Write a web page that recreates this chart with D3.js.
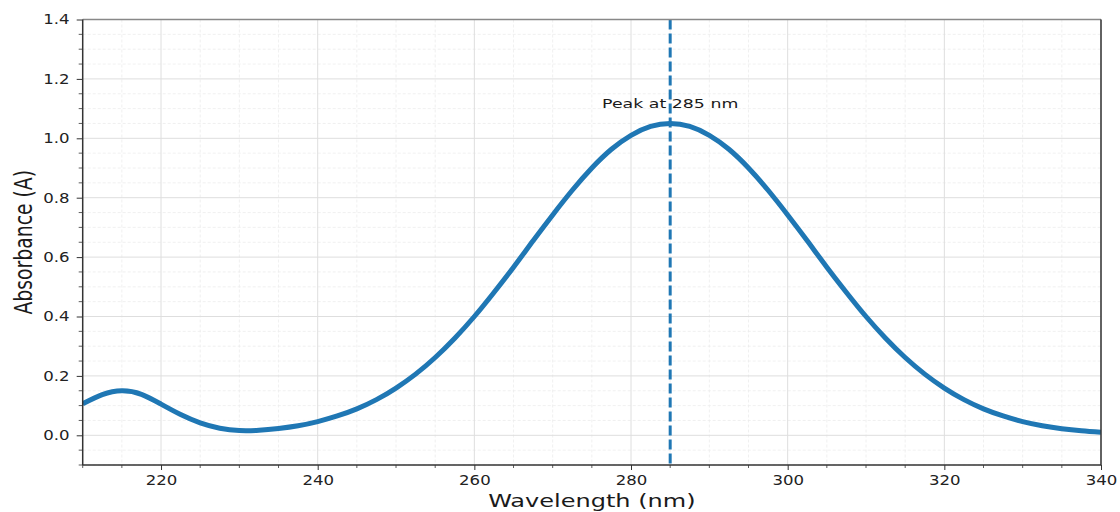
<!DOCTYPE html>
<html>
<head>
<meta charset="utf-8">
<script src="https://cdn.jsdelivr.net/npm/d3@7"></script>
<style>
    body { margin: 0; background: #fff; }
    svg { display: block; font-family: "DejaVu Sans", sans-serif; }
</style>
</head>
<body>
<div id="chart"></div>
<script>
// absorbance spectrum, every 2.5 nm
const wavelengths = [
    210, 212.5, 215, 217.5, 220, 222.5, 225, 227.5, 230, 232.5,
    235, 237.5, 240, 242.5, 245, 247.5, 250, 252.5, 255, 257.5,
    260, 262.5, 265, 267.5, 270, 272.5, 275, 277.5, 280, 282.5,
    285, 287.5, 290, 292.5, 295, 297.5, 300, 302.5, 305, 307.5,
    310, 312.5, 315, 317.5, 320, 322.5, 325, 327.5, 330, 332.5,
    335, 337.5, 340
];
const absorbance = [
    0.106, 0.137, 0.150, 0.138, 0.105, 0.070, 0.042, 0.024, 0.016, 0.017,
    0.023, 0.032, 0.046, 0.065, 0.089, 0.120, 0.159, 0.206, 0.262, 0.327,
    0.400, 0.481, 0.566, 0.655, 0.742, 0.825, 0.900, 0.963, 1.010, 1.040,
    1.050, 1.040, 1.010, 0.963, 0.900, 0.825, 0.742, 0.655, 0.566, 0.481,
    0.400, 0.327, 0.262, 0.206, 0.159, 0.120, 0.089, 0.065, 0.046, 0.032,
    0.022, 0.015, 0.010
];
const xTicks = [220, 240, 260, 280, 300, 320, 340];
const yTicks = [0.0, 0.2, 0.4, 0.6, 0.8, 1.0, 1.2, 1.4];
const xDomain = [210, 340];
const yDomain = [-0.1, 1.4];
const peakWavelength = 285;
const peakLabel = "Peak at 285 nm";
const peakLabelLevel = 1.10;
const xTitle = "Wavelength (nm)";
const yTitle = "Absorbance (A)";

const width = 1120, height = 512;
const m = { left: 82.7, right: 1101, top: 19.5, bottom: 465 };
const lineColor = "#1f77b4";

const svg = d3.select("#chart").append("svg")
    .attr("width", width).attr("height", height);

const x = d3.scaleLinear().domain(xDomain).range([m.left, m.right]);
const y = d3.scaleLinear().domain(yDomain).range([m.bottom, m.top]);

// minor ticks every 5 nm / 0.05
const xMinor = d3.range(210, 340.01, 5).filter(v => !xTicks.includes(v));
const yMinor = d3.range(-0.1, 1.401, 0.05).map(v => +v.toFixed(2))
    .filter(v => !yTicks.some(t => Math.abs(t - v) < 1e-6));

// grid
const grid = svg.append("g");
grid.selectAll(".gx-minor").data(xMinor).join("line")
    .attr("x1", d => x(d)).attr("x2", d => x(d)).attr("y1", m.top).attr("y2", m.bottom)
    .attr("stroke", "#ececec").attr("stroke-width", 0.8).attr("stroke-dasharray", "3,2");
grid.selectAll(".gy-minor").data(yMinor).join("line")
    .attr("y1", d => y(d)).attr("y2", d => y(d)).attr("x1", m.left).attr("x2", m.right)
    .attr("stroke", "#ececec").attr("stroke-width", 0.8).attr("stroke-dasharray", "3,2");
grid.selectAll(".gx").data(xTicks).join("line")
    .attr("x1", d => x(d)).attr("x2", d => x(d)).attr("y1", m.top).attr("y2", m.bottom)
    .attr("stroke", "#dedede").attr("stroke-width", 1);
grid.selectAll(".gy").data(yTicks).join("line")
    .attr("y1", d => y(d)).attr("y2", d => y(d)).attr("x1", m.left).attr("x2", m.right)
    .attr("stroke", "#dedede").attr("stroke-width", 1);

// curve
const clipId = "plot-clip";
svg.append("defs").append("clipPath").attr("id", clipId)
    .append("rect").attr("x", m.left).attr("y", m.top)
    .attr("width", m.right - m.left).attr("height", m.bottom - m.top);

const line = d3.line()
    .x(d => x(d[0])).y(d => y(d[1]))
    .curve(d3.curveNatural);

svg.append("path")
    .datum(wavelengths.map((w, i) => [w, absorbance[i]]))
    .attr("clip-path", `url(#${clipId})`)
    .attr("d", line)
    .attr("fill", "none")
    .attr("stroke", lineColor)
    .attr("stroke-width", 5)
    .attr("stroke-linejoin", "round");

// peak marker
svg.append("line")
    .attr("x1", x(peakWavelength)).attr("x2", x(peakWavelength))
    .attr("y1", m.top).attr("y2", m.bottom)
    .attr("stroke", lineColor).attr("stroke-width", 3)
    .attr("stroke-dasharray", "10,4");

svg.append("text")
    .attr("transform", `translate(${x(peakWavelength)},${y(peakLabelLevel) - 1}) scale(1.4,1)`)
    .attr("text-anchor", "middle")
    .attr("font-size", 12.4)
    .attr("fill", "#1a1a1a")
    .text(peakLabel);

// axes
const xAxis = svg.append("g").attr("transform", `translate(0,${m.bottom})`)
    .call(d3.axisBottom(x).tickValues(xTicks).tickSize(5).tickPadding(5.5).tickFormat(d3.format("d")));
const yAxis = svg.append("g").attr("transform", `translate(${m.left},0)`)
    .call(d3.axisLeft(y).tickValues(yTicks).tickSize(6).tickPadding(5).tickFormat(d3.format(".1f")));

[xAxis, yAxis].forEach(g => {
    g.select(".domain").remove();
    g.selectAll(".tick line").attr("stroke", "#333").attr("stroke-width", 1);
    g.selectAll(".tick text").attr("font-size", 13.8).attr("fill", "#222")
        .attr("font-family", "DejaVu Sans, sans-serif");
});
xAxis.selectAll(".tick text").attr("transform", "scale(1.2,1)");
yAxis.selectAll(".tick text").attr("x", -11).attr("transform", "scale(1.2,1)");

// minor ticks
svg.append("g").selectAll("line").data(xMinor).join("line")
    .attr("x1", d => x(d)).attr("x2", d => x(d)).attr("y1", m.bottom).attr("y2", m.bottom + 3)
    .attr("stroke", "#333").attr("stroke-width", 0.8);
svg.append("g").selectAll("line").data(yMinor).join("line")
    .attr("y1", d => y(d)).attr("y2", d => y(d)).attr("x1", m.left - 4).attr("x2", m.left)
    .attr("stroke", "#333").attr("stroke-width", 0.8);

// frame
svg.append("line").attr("x1", m.left).attr("x2", m.right).attr("y1", m.top).attr("y2", m.top)
    .attr("stroke", "#888").attr("stroke-width", 1.5);
svg.append("line").attr("x1", m.right).attr("x2", m.right).attr("y1", m.top).attr("y2", m.bottom)
    .attr("stroke", "#333").attr("stroke-width", 1.5);
svg.append("line").attr("x1", m.left).attr("x2", m.left).attr("y1", m.top).attr("y2", m.bottom)
    .attr("stroke", "#333").attr("stroke-width", 1.5);
svg.append("line").attr("x1", m.left).attr("x2", m.right).attr("y1", m.bottom).attr("y2", m.bottom)
    .attr("stroke", "#333").attr("stroke-width", 1.5);

// titles
svg.append("text")
    .attr("transform", `translate(${(m.left + m.right) / 2},506.5) scale(1.32,1)`)
    .attr("text-anchor", "middle")
    .attr("font-size", 18.2)
    .attr("fill", "#1a1a1a")
    .text(xTitle);

svg.append("text")
    .attr("transform", `translate(31.5,${(m.top + m.bottom) / 2}) scale(1.3,1) rotate(-90)`)
    .attr("text-anchor", "middle")
    .attr("font-size", 18.8)
    .attr("fill", "#1a1a1a")
    .text(yTitle);
</script>
</body>
</html>
